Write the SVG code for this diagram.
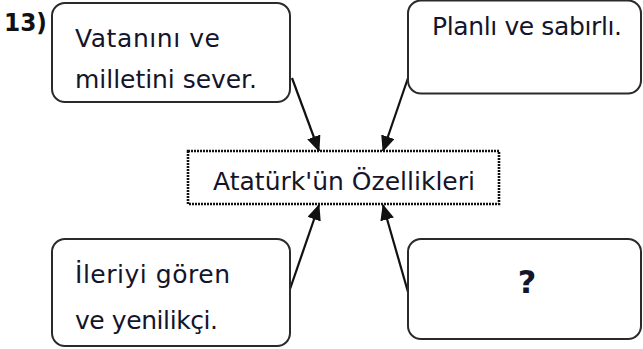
<svg xmlns="http://www.w3.org/2000/svg" width="643" height="349" viewBox="0 0 643 349">
  <style>
    .box { fill: #ffffff; stroke: #2a2a2a; stroke-width: 2; }
    .center { fill: #ffffff; stroke: #111111; stroke-width: 2.6; stroke-dasharray: 2 1; }
    .t { font-family: "DejaVu Sans", "Liberation Sans", sans-serif; font-size: 25px; fill: #14142a; }
    .num { font-family: "DejaVu Sans", "Liberation Sans", sans-serif; font-size: 24px; font-weight: bold; fill: #111111; }
    .q { font-family: "DejaVu Sans", "Liberation Sans", sans-serif; font-size: 32px; font-weight: bold; fill: #14142a; }
    .conn { stroke: #111111; stroke-width: 2.2; fill: none; marker-end: url(#arrow); }
  </style>
  <defs>
    <marker id="arrow" markerUnits="userSpaceOnUse" markerWidth="16" markerHeight="14" viewBox="0 0 16 14" refX="15" refY="7" orient="auto">
      <path d="M0,0 L16,7 L0,14 Z" fill="#111111"/>
    </marker>
  </defs>
  <rect width="643" height="349" fill="#ffffff"/>

  <text class="num" x="4" y="31" textLength="43" lengthAdjust="spacingAndGlyphs">13)</text>

  <g id="connectors">
    <line class="conn" x1="292" y1="78" x2="319" y2="151"/>
    <line class="conn" x1="408" y1="78" x2="383" y2="151"/>
    <line class="conn" x1="289" y1="292" x2="319" y2="205"/>
    <line class="conn" x1="408" y1="292" x2="383" y2="205"/>
  </g>

  <g id="node-vatan">
    <rect class="box" x="52" y="3" width="238" height="99" rx="13"/>
    <text class="t" x="75" y="47" textLength="145" lengthAdjust="spacing">Vatanını ve</text>
    <text class="t" x="75" y="88" textLength="182" lengthAdjust="spacing">milletini sever.</text>
  </g>

  <g id="node-planli">
    <rect class="box" x="408" y="0.5" width="233" height="93" rx="13"/>
    <text class="t" x="432" y="35" textLength="190" lengthAdjust="spacing">Planlı ve sabırlı.</text>
  </g>

  <g id="node-center">
    <rect class="center" x="188" y="151" width="311" height="53"/>
    <text class="t" x="213" y="190" textLength="262" lengthAdjust="spacing">Atatürk'ün Özellikleri</text>
  </g>

  <g id="node-ileriyi">
    <rect class="box" x="52" y="239" width="238" height="107" rx="13"/>
    <text class="t" x="75" y="283" textLength="155" lengthAdjust="spacing">İleriyi gören</text>
    <text class="t" x="75" y="329" textLength="143" lengthAdjust="spacing">ve yenilikçi.</text>
  </g>

  <g id="node-question">
    <rect class="box" x="408" y="239" width="233" height="100" rx="13"/>
    <text class="q" x="527" y="293" text-anchor="middle">?</text>
  </g>
</svg>
